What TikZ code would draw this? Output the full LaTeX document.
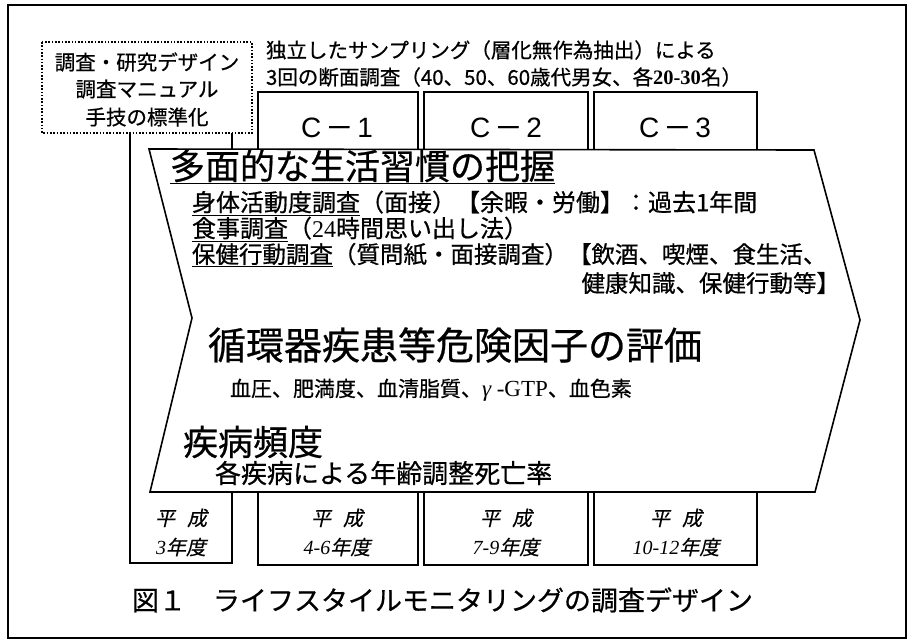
\documentclass[tikz,border=0pt]{standalone}
\usepackage{fontspec}
\setmainfont{Liberation Serif}
\newfontfamily\jp[FakeBold=0.6]{Noto Sans CJK JP}
\newfontfamily\jpi[FakeSlant=0.22,FakeBold=0.4]{Noto Sans CJK JP}
\newfontfamily\lsans{Liberation Sans}
\newfontfamily\tms{Liberation Serif}
\newcommand\fsz[2]{\fontsize{#1}{#2}\selectfont}
\begin{document}
\begin{tikzpicture}[x=1pt,y=-1pt,
  every node/.style={inner sep=0pt,outer sep=0pt},
  framebox/.style={draw,line width=1.4pt},
  periodbox/.style={draw,line width=2.6pt},
  firstbox/.style={draw,line width=2pt},
  notebox/.style={draw,line width=1.6pt,dash pattern=on 1.6pt off 1.7pt},
  chevron/.style={draw,fill=white,line width=1.6pt,line join=miter},
  toptext/.style={anchor=west,font=\jp\fsz{20.5}{24}},
  notetext/.style={font=\jp\fsz{20.5}{24}},
  clabel/.style={font=\lsans\fsz{28}{32}},
  headA/.style={anchor=west,font=\jp\fsz{35}{40}},
  bodyA/.style={anchor=west,font=\jp\fsz{24}{28}},
  yearlabel/.style={font=\jpi\fsz{20}{24}},
  caption/.style={anchor=west,font=\jp\fsz{27}{30}}]
\useasboundingbox (0,0) rectangle (915,641);
% outer frame
\draw[framebox] (8,5) rectangle (906,638);
% period boxes
\draw[firstbox] (130,133) -- (130,563) -- (232,563) -- (232,133);
\draw[periodbox] (258,92) rectangle (418,565);
\draw[periodbox] (424,92) rectangle (588,565);
\draw[periodbox] (594,92) rectangle (757,565);
% dotted note box
\draw[notebox] (42,42) rectangle (252,133);
\node[notetext] (n1) at (147,62) {調査・研究デザイン};
\node[notetext] (n2) at (147,89) {調査マニュアル};
\node[notetext] (n3) at (147,117) {手技の標準化};
% top description
\node[toptext] (s1) at (266,50) {独立したサンプリング（層化無作為抽出）による};
\node[toptext] (s2) at (266,77) {3回の断面調査（40、50、60歳代男女、各{\tms\bfseries 20-30}名）};
% C labels
\node[clabel] (c1) at (337,128) {C\hspace{4pt}{\jp －}\hspace{4pt}1};
\node[clabel] (c2) at (506,128) {C\hspace{4pt}{\jp －}\hspace{4pt}2};
\node[clabel] (c3) at (675,128) {C\hspace{4pt}{\jp －}\hspace{4pt}3};
% chevron
\draw[chevron] (149,149) -- (814,150) -- (860,320) -- (815,492) -- (150,492) -- (192,318) -- cycle;
\node[headA] (h1) at (170,167) {\underline{多面的な生活習慣の把握}};
\node[bodyA] (b1) at (192,203) {\underline{身体活動度調査}（面接）【余暇・労働】：過去1年間};
\node[bodyA] (b2) at (192,229) {\underline{食事調査}（{\tms 24}時間思い出し法）};
\node[bodyA,font=\jp\fsz{23.5}{28}] (b3) at (192,255) {\underline{保健行動調査}（質問紙・面接調査）【飲酒、喫煙、食生活、};
\node[bodyA,font=\jp\fsz{23.5}{28}, anchor=east] (b4) at (840,283) {健康知識、保健行動等】};
\node[anchor=west,font=\jp\fsz{38}{44}] (h2) at (208,345) {循環器疾患等危険因子の評価};
\node[anchor=west,font=\jp\fsz{21}{26}] (b5) at (230,390) {血圧、肥満度、血清脂質、{\tms\fsz{23}{26}\itshape γ}{\tms\fsz{23}{26} -GTP}、血色素};
\node[headA] (h3) at (183,442) {疾病頻度};
\node[anchor=west,font=\jp\fsz{26}{30}] (b6) at (215,473) {各疾病による年齢調整死亡率};
% year labels
\node[yearlabel] (y1a) at (181,518) {平\hspace{0.6em}成};
\node[yearlabel] (y1b) at (181,547) {{\tms\itshape 3}年度};
\node[yearlabel] (y2a) at (337,518) {平\hspace{0.6em}成};
\node[yearlabel] (y2b) at (337,547) {{\tms\itshape 4-6}年度};
\node[yearlabel] (y3a) at (506,518) {平\hspace{0.6em}成};
\node[yearlabel] (y3b) at (506,547) {{\tms\itshape 7-9}年度};
\node[yearlabel] (y4a) at (676,518) {平\hspace{0.6em}成};
\node[yearlabel] (y4b) at (676,547) {{\tms\itshape 10-12}年度};
% caption
\node[caption] (cap) at (132,600) {図１　ライフスタイルモニタリングの調査デザイン};
\end{tikzpicture}
\end{document}
